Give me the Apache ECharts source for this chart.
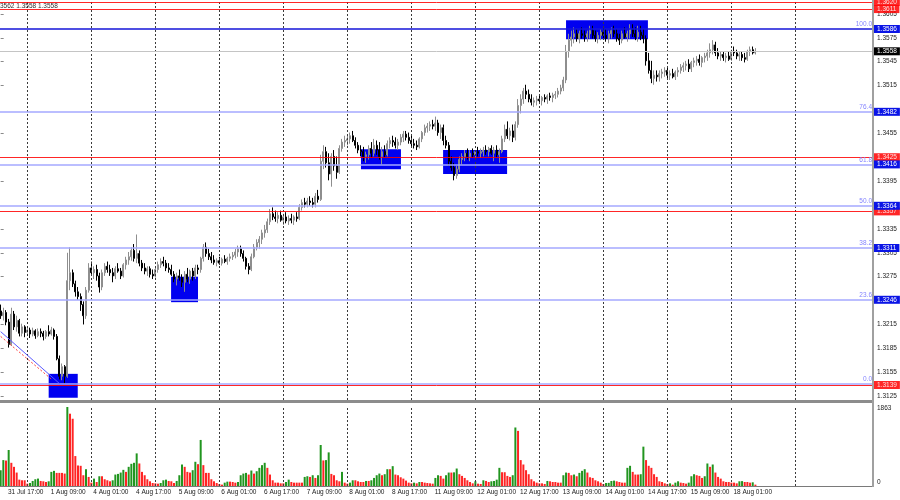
<!DOCTYPE html>
<html><head><meta charset="utf-8">
<script src="https://cdn.jsdelivr.net/npm/echarts@6/dist/echarts.min.js"></script>
<style>html,body{margin:0;padding:0;background:#fff}#c{width:900px;height:500px}</style>
</head><body><div id="c"></div><script>
const FONT = "'Liberation Sans',Arial,sans-serif";
const FS = 6.5;

const opens = [1.3232,1.3226,1.3230,1.3218,1.3190,1.3228,1.3212,1.3220,1.3204,1.3212,
1.3205,1.3208,1.3203,1.3207,1.3201,1.3206,1.3204,1.3200,1.3206,1.3203,
1.3208,1.3200,1.3172,1.3150,1.3162,1.3150,1.3270,1.3280,1.3266,1.3256,
1.3250,1.3240,1.3226,1.3258,1.3286,1.3280,1.3284,1.3276,1.3262,1.3280,
1.3288,1.3284,1.3280,1.3276,1.3285,1.3282,1.3276,1.3290,1.3296,1.3300,
1.3308,1.3298,1.3304,1.3292,1.3286,1.3282,1.3285,1.3278,1.3276,1.3284,
1.3290,1.3294,1.3292,1.3286,1.3284,1.3278,1.3272,1.3276,1.3274,1.3268,
1.3278,1.3272,1.3282,1.3276,1.3286,1.3284,1.3298,1.3312,1.3304,1.3300,
1.3296,1.3293,1.3295,1.3292,1.3297,1.3294,1.3298,1.3300,1.3302,1.3306,
1.3310,1.3304,1.3298,1.3288,1.3284,1.3300,1.3312,1.3318,1.3322,1.3330,
1.3334,1.3344,1.3354,1.3350,1.3348,1.3352,1.3346,1.3350,1.3345,1.3348,
1.3346,1.3350,1.3348,1.3362,1.3368,1.3366,1.3370,1.3368,1.3366,1.3376,
1.3372,1.3420,1.3432,1.3418,1.3404,1.3426,1.3414,1.3406,1.3436,1.3444,
1.3446,1.3448,1.3452,1.3446,1.3440,1.3434,1.3432,1.3426,1.3428,1.3436,
1.3430,1.3440,1.3434,1.3426,1.3432,1.3428,1.3442,1.3446,1.3444,1.3440,
1.3444,1.3450,1.3454,1.3450,1.3446,1.3442,1.3440,1.3438,1.3448,1.3456,
1.3462,1.3464,1.3466,1.3464,1.3468,1.3456,1.3462,1.3446,1.3440,1.3420,
1.3412,1.3402,1.3410,1.3422,1.3426,1.3430,1.3426,1.3430,1.3428,1.3432,
1.3430,1.3432,1.3434,1.3432,1.3436,1.3430,1.3434,1.3428,1.3432,1.3448,
1.3460,1.3452,1.3458,1.3450,1.3466,1.3490,1.3498,1.3508,1.3504,1.3498,
1.3494,1.3496,1.3498,1.3496,1.3500,1.3498,1.3502,1.3500,1.3503,1.3504,
1.3508,1.3512,1.3522,1.3558,1.3572,1.3576,1.3580,1.3574,1.3580,1.3578,
1.3576,1.3580,1.3584,1.3578,1.3574,1.3578,1.3582,1.3578,1.3574,1.3580,
1.3584,1.3580,1.3574,1.3572,1.3580,1.3576,1.3580,1.3586,1.3580,1.3576,
1.3582,1.3578,1.3574,1.3546,1.3534,1.3524,1.3528,1.3526,1.3530,1.3532,
1.3534,1.3528,1.3530,1.3526,1.3532,1.3534,1.3538,1.3540,1.3542,1.3536,
1.3544,1.3546,1.3548,1.3544,1.3550,1.3552,1.3556,1.3560,1.3566,1.3556,
1.3552,1.3554,1.3550,1.3552,1.3548,1.3558,1.3556,1.3552,1.3554,1.3550,
1.3548,1.3558,1.3560,1.3556];

const highs = [1.3240,1.3236,1.3233,1.3222,1.3236,1.3232,1.3226,1.3222,1.3216,1.3214,
1.3212,1.3211,1.3211,1.3209,1.3210,1.3210,1.3207,1.3208,1.3214,1.3212,
1.3210,1.3203,1.3176,1.3166,1.3164,1.3305,1.3312,1.3284,1.3270,1.3262,
1.3254,1.3244,1.3262,1.3292,1.3294,1.3288,1.3290,1.3280,1.3284,1.3292,
1.3294,1.3290,1.3286,1.3288,1.3292,1.3286,1.3292,1.3300,1.3306,1.3312,
1.3316,1.3328,1.3308,1.3296,1.3292,1.3288,1.3288,1.3284,1.3286,1.3294,
1.3298,1.3300,1.3296,1.3292,1.3290,1.3282,1.3280,1.3284,1.3278,1.3282,
1.3286,1.3284,1.3286,1.3290,1.3290,1.3300,1.3316,1.3318,1.3310,1.3306,
1.3302,1.3298,1.3300,1.3299,1.3302,1.3300,1.3304,1.3306,1.3310,1.3314,
1.3314,1.3308,1.3300,1.3292,1.3304,1.3316,1.3322,1.3326,1.3334,1.3340,
1.3348,1.3360,1.3362,1.3358,1.3356,1.3358,1.3354,1.3356,1.3352,1.3354,
1.3352,1.3356,1.3366,1.3372,1.3374,1.3374,1.3376,1.3374,1.3380,1.3384,
1.3428,1.3440,1.3438,1.3430,1.3430,1.3434,1.3426,1.3440,1.3448,1.3452,
1.3454,1.3456,1.3458,1.3450,1.3444,1.3440,1.3438,1.3432,1.3440,1.3444,
1.3448,1.3446,1.3444,1.3438,1.3440,1.3446,1.3450,1.3452,1.3450,1.3448,
1.3454,1.3458,1.3458,1.3456,1.3452,1.3448,1.3446,1.3450,1.3458,1.3466,
1.3468,1.3470,1.3472,1.3476,1.3472,1.3466,1.3466,1.3452,1.3444,1.3426,
1.3418,1.3414,1.3426,1.3430,1.3434,1.3436,1.3434,1.3436,1.3434,1.3438,
1.3436,1.3438,1.3440,1.3438,1.3440,1.3438,1.3440,1.3436,1.3452,1.3466,
1.3470,1.3462,1.3466,1.3470,1.3498,1.3504,1.3512,1.3516,1.3510,1.3504,
1.3500,1.3502,1.3504,1.3502,1.3504,1.3504,1.3506,1.3506,1.3508,1.3512,
1.3516,1.3526,1.3566,1.3580,1.3584,1.3588,1.3586,1.3584,1.3588,1.3584,
1.3584,1.3590,1.3590,1.3584,1.3582,1.3586,1.3588,1.3586,1.3584,1.3588,
1.3590,1.3586,1.3580,1.3584,1.3588,1.3584,1.3592,1.3592,1.3588,1.3590,
1.3590,1.3586,1.3578,1.3556,1.3546,1.3534,1.3534,1.3534,1.3536,1.3538,
1.3538,1.3534,1.3536,1.3534,1.3538,1.3542,1.3544,1.3546,1.3548,1.3546,
1.3550,1.3552,1.3554,1.3552,1.3556,1.3560,1.3568,1.3572,1.3570,1.3562,
1.3558,1.3558,1.3556,1.3558,1.3560,1.3564,1.3560,1.3558,1.3558,1.3556,
1.3560,1.3564,1.3564,1.3562];

const lows = [1.3222,1.3220,1.3214,1.3186,1.3188,1.3208,1.3206,1.3200,1.3200,1.3199,
1.3201,1.3198,1.3200,1.3197,1.3199,1.3199,1.3195,1.3197,1.3200,1.3201,
1.3196,1.3170,1.3146,1.3145,1.3141,1.3148,1.3258,1.3262,1.3250,1.3246,
1.3232,1.3215,1.3222,1.3255,1.3276,1.3272,1.3270,1.3255,1.3258,1.3276,
1.3280,1.3276,1.3268,1.3272,1.3280,1.3272,1.3274,1.3284,1.3290,1.3295,
1.3294,1.3292,1.3288,1.3282,1.3278,1.3276,1.3274,1.3272,1.3274,1.3280,
1.3286,1.3288,1.3282,1.3280,1.3276,1.3268,1.3264,1.3270,1.3262,1.3256,
1.3268,1.3266,1.3270,1.3272,1.3278,1.3280,1.3294,1.3300,1.3296,1.3292,
1.3290,1.3288,1.3290,1.3289,1.3292,1.3290,1.3294,1.3296,1.3298,1.3300,
1.3300,1.3294,1.3284,1.3278,1.3282,1.3298,1.3308,1.3310,1.3316,1.3324,
1.3330,1.3340,1.3346,1.3344,1.3342,1.3344,1.3340,1.3342,1.3340,1.3342,
1.3340,1.3344,1.3346,1.3358,1.3362,1.3362,1.3364,1.3362,1.3362,1.3368,
1.3370,1.3410,1.3412,1.3396,1.3388,1.3408,1.3398,1.3404,1.3432,1.3438,
1.3440,1.3442,1.3444,1.3436,1.3430,1.3426,1.3420,1.3418,1.3422,1.3424,
1.3426,1.3428,1.3422,1.3416,1.3424,1.3426,1.3436,1.3438,1.3436,1.3434,
1.3440,1.3444,1.3446,1.3442,1.3438,1.3436,1.3434,1.3436,1.3444,1.3452,
1.3456,1.3458,1.3460,1.3458,1.3452,1.3448,1.3440,1.3436,1.3414,1.3408,
1.3396,1.3398,1.3406,1.3416,1.3420,1.3422,1.3420,1.3424,1.3422,1.3426,
1.3424,1.3426,1.3428,1.3426,1.3428,1.3420,1.3424,1.3418,1.3430,1.3444,
1.3448,1.3446,1.3444,1.3446,1.3462,1.3480,1.3492,1.3498,1.3494,1.3490,
1.3488,1.3490,1.3492,1.3490,1.3494,1.3492,1.3496,1.3494,1.3498,1.3500,
1.3504,1.3508,1.3518,1.3550,1.3564,1.3568,1.3570,1.3568,1.3574,1.3570,
1.3570,1.3574,1.3574,1.3570,1.3568,1.3572,1.3574,1.3570,1.3568,1.3574,
1.3576,1.3570,1.3566,1.3568,1.3574,1.3570,1.3574,1.3576,1.3572,1.3570,
1.3572,1.3568,1.3540,1.3530,1.3518,1.3516,1.3520,1.3520,1.3524,1.3526,
1.3524,1.3522,1.3524,1.3522,1.3526,1.3530,1.3532,1.3534,1.3532,1.3532,
1.3538,1.3540,1.3540,1.3538,1.3544,1.3546,1.3550,1.3554,1.3552,1.3548,
1.3546,1.3546,1.3544,1.3546,1.3546,1.3552,1.3548,1.3546,1.3546,1.3544,
1.3546,1.3552,1.3554,1.3554];

const closes = [1.3226,1.3230,1.3218,1.3190,1.3228,1.3212,1.3220,1.3204,1.3212,1.3205,
1.3208,1.3203,1.3207,1.3201,1.3206,1.3204,1.3200,1.3206,1.3203,1.3208,
1.3200,1.3172,1.3150,1.3162,1.3150,1.3270,1.3280,1.3266,1.3256,1.3250,
1.3240,1.3226,1.3258,1.3286,1.3280,1.3284,1.3276,1.3262,1.3280,1.3288,
1.3284,1.3280,1.3276,1.3285,1.3282,1.3276,1.3290,1.3296,1.3300,1.3308,
1.3298,1.3304,1.3292,1.3286,1.3282,1.3285,1.3278,1.3276,1.3284,1.3290,
1.3294,1.3292,1.3286,1.3284,1.3278,1.3272,1.3276,1.3274,1.3268,1.3278,
1.3272,1.3282,1.3276,1.3286,1.3284,1.3298,1.3312,1.3304,1.3300,1.3296,
1.3293,1.3295,1.3292,1.3297,1.3294,1.3298,1.3300,1.3302,1.3306,1.3310,
1.3304,1.3298,1.3288,1.3284,1.3300,1.3312,1.3318,1.3322,1.3330,1.3334,
1.3344,1.3354,1.3350,1.3348,1.3352,1.3346,1.3350,1.3345,1.3348,1.3346,
1.3350,1.3348,1.3362,1.3368,1.3366,1.3370,1.3368,1.3366,1.3376,1.3372,
1.3420,1.3432,1.3418,1.3404,1.3426,1.3414,1.3406,1.3436,1.3444,1.3446,
1.3448,1.3452,1.3446,1.3440,1.3434,1.3432,1.3426,1.3428,1.3436,1.3430,
1.3440,1.3434,1.3426,1.3432,1.3428,1.3442,1.3446,1.3444,1.3440,1.3444,
1.3450,1.3454,1.3450,1.3446,1.3442,1.3440,1.3438,1.3448,1.3456,1.3462,
1.3464,1.3466,1.3464,1.3468,1.3456,1.3462,1.3446,1.3440,1.3420,1.3412,
1.3402,1.3410,1.3422,1.3426,1.3430,1.3426,1.3430,1.3428,1.3432,1.3430,
1.3432,1.3434,1.3432,1.3436,1.3430,1.3434,1.3428,1.3432,1.3448,1.3460,
1.3452,1.3458,1.3450,1.3466,1.3490,1.3498,1.3508,1.3504,1.3498,1.3494,
1.3496,1.3498,1.3496,1.3500,1.3498,1.3502,1.3500,1.3503,1.3504,1.3508,
1.3512,1.3522,1.3558,1.3572,1.3576,1.3580,1.3574,1.3580,1.3578,1.3576,
1.3580,1.3584,1.3578,1.3574,1.3578,1.3582,1.3578,1.3574,1.3580,1.3584,
1.3580,1.3574,1.3572,1.3580,1.3576,1.3580,1.3586,1.3580,1.3576,1.3582,
1.3578,1.3574,1.3546,1.3534,1.3524,1.3528,1.3526,1.3530,1.3532,1.3534,
1.3528,1.3530,1.3526,1.3532,1.3534,1.3538,1.3540,1.3542,1.3536,1.3544,
1.3546,1.3548,1.3544,1.3550,1.3552,1.3556,1.3560,1.3566,1.3556,1.3552,
1.3554,1.3550,1.3552,1.3548,1.3558,1.3556,1.3552,1.3554,1.3550,1.3548,
1.3558,1.3560,1.3556,1.3558];

const volumes = [373,611,600,849,547,452,317,150,135,135,
55,71,119,159,175,119,111,95,111,333,
357,309,309,309,293,1863,1705,1586,706,484,
476,254,396,214,79,174,95,230,230,159,
135,111,135,270,285,317,381,333,452,523,
547,769,531,333,254,159,111,71,63,55,
71,135,150,119,111,71,119,254,507,452,
333,317,373,571,515,1086,492,309,309,159,
111,71,48,32,79,103,103,95,79,95,
254,293,309,270,365,293,349,428,492,547,
428,270,135,79,79,63,63,95,150,95,
79,79,79,79,214,230,214,254,190,254,
967,603,611,793,285,254,135,111,333,79,
55,79,135,135,111,95,95,119,119,135,
190,254,293,254,278,396,396,468,270,254,
206,174,127,79,63,79,63,95,95,79,
71,63,55,190,254,238,174,254,317,
317,322,412,278,238,190,135,95,63,111,
55,48,135,119,95,111,118,150,428,325,
325,238,214,254,1380,1300,611,507,373,278,
159,111,79,63,63,48,119,111,95,95,
79,79,254,317,309,254,270,230,309,357,
396,317,206,190,135,111,79,48,71,74,
119,127,111,95,79,79,428,476,333,270,
270,278,928,611,476,428,278,214,111,95,
63,48,63,32,79,111,79,71,55,79,
230,278,254,238,190,230,531,452,507,317,
214,174,111,95,95,79,79,63,111,115,
95,95,79,87,32];

const xLabelBars = [2,18,34,50,66,82,98,114,130,146,162,178,194,210,226,242,258,274];
const xLabelTexts = ['31 Jul 17:00','1 Aug 09:00','4 Aug 01:00','4 Aug 17:00','5 Aug 09:00','6 Aug 01:00','6 Aug 17:00','7 Aug 09:00','8 Aug 01:00','8 Aug 17:00','11 Aug 09:00','12 Aug 01:00','12 Aug 17:00','13 Aug 09:00','14 Aug 01:00','14 Aug 17:00','15 Aug 09:00','18 Aug 01:00'];
const gridBars = [10,34,58,82,106,130,154,178,202,226,250,274,298];
const priceTicks = [1.3125,1.3155,1.3185,1.3215,1.3275,1.3305,1.3335,1.3395,1.3455,1.3515,1.3545,1.3575,1.3605];

const redLevels = [1.3620,1.3611,1.3425,1.3357,1.3139];
const fibLevels = [1.3586,1.3482,1.3416,1.3364,1.3311,1.3246,1.3141];
const fibRatios = ['100.0','76.4','61.8','50.0','38.2','23.6','0.0'];
const bidPrice = 1.3558;
const volumeMax = 1863;

const boxStart = [18.0,63.9,135.1,165.9,212.0];
const boxEnd = [28.9,74.0,150.1,189.9,242.7];
const boxTop = [1.3153,1.3275,1.3435,1.3434,1.3597];
const boxBottom = [1.3123,1.3243,1.3410,1.3404,1.3573];

const blueTrend = [[0,1.3206],[22,1.3141]];
const redTrend = [[0,1.3200],[19.5,1.3145]];

const candleData = opens.map((o,i)=>[i,o,closes[i],lows[i],highs[i]]);
const volData = volumes.map((v,i)=>({value:[i,v],itemStyle:{color:(i===0||v>volumes[i-1])?'#21951f':'#ff2424'}}));

const priceLabel = (txt,bg)=>({show:true,position:'end',distance:1,formatter:txt,color:'#fff',backgroundColor:bg,
  padding:[1,3,0,3],fontSize:FS,lineHeight:7,fontFamily:FONT});

const levelLines = [];
redLevels.forEach(v=>levelLines.push({yAxis:v,lineStyle:{color:'#ff0000',width:1,type:'solid',opacity:0.85},label:priceLabel(v.toFixed(4),'#ff0000')}));
fibLevels.forEach((v,k)=>{
  const main = k===0;
  levelLines.push({yAxis:v,lineStyle:{color:main?'#1414d8':'#a4a8ff',width:1.6,type:'solid'},
    label: k===fibLevels.length-1 ? {show:false} : priceLabel(v.toFixed(4),'#0a14e6')});
  levelLines.push({yAxis:v,lineStyle:{color:'rgba(0,0,0,0)',width:0},label:{show:true,position:'insideEndTop',distance:1,formatter:fibRatios[k],
    color:'#8484ff',fontSize:FS,fontFamily:FONT}});
});
levelLines.push({yAxis:bidPrice,lineStyle:{color:'#c4c4c4',width:1,type:'solid'},label:priceLabel(bidPrice.toFixed(4),'#000')});

const X_MIN=-0.25, X_MAX=327.1;
const Y_MIN=1.312017, Y_MAX=1.362241;

const chart = echarts.init(document.getElementById('c'),null,{renderer:'canvas'});
chart.setOption({
  animation:false,
  backgroundColor:'#ffffff',
  textStyle:{fontFamily:FONT},
  grid:[
    {left:0,top:0,width:873,height:400},
    {left:0,top:407,width:873,height:79}
  ],
  xAxis:[
    {type:'value',gridIndex:0,min:X_MIN,max:X_MAX,show:false},
    {type:'value',gridIndex:1,min:X_MIN,max:X_MAX,
      axisLine:{show:true,lineStyle:{color:'#7a7a7a',width:1}},
      axisTick:{show:false},splitLine:{show:false},
      axisLabel:{customValues:xLabelBars,formatter:v=>xLabelTexts[xLabelBars.indexOf(v)]||'',
        align:'left',padding:[0,0,0,2],margin:3,fontSize:FS,color:'#222',fontFamily:FONT}}
  ],
  yAxis:[
    {type:'value',gridIndex:0,position:'right',min:Y_MIN,max:Y_MAX,
      axisLine:{show:false},splitLine:{show:false},
      axisTick:{show:true,customValues:priceTicks,length:3,lineStyle:{color:'#8a8a8a'}},
      axisLabel:{customValues:priceTicks,formatter:v=>v.toFixed(4),margin:4,fontSize:FS,color:'#222',fontFamily:FONT}},
    {type:'value',gridIndex:1,position:'right',min:0,max:volumeMax,
      axisLine:{show:false},splitLine:{show:false},axisTick:{show:false},axisLabel:{show:false}}
  ],
  series:[
    {type:'line',xAxisIndex:0,yAxisIndex:0,data:[],z:1,silent:true,
      markLine:{silent:true,symbol:['none','none'],animation:false,label:{show:false},
        lineStyle:{color:'#3a3a3a',type:[2,2],width:1},data:gridBars.map(b=>({xAxis:b}))}},
    {type:'line',xAxisIndex:1,yAxisIndex:1,data:[],z:1,silent:true,
      markLine:{silent:true,symbol:['none','none'],animation:false,label:{show:false},
        lineStyle:{color:'#3a3a3a',type:[2,2],width:1},data:gridBars.map(b=>({xAxis:b}))}},
    {type:'line',xAxisIndex:0,yAxisIndex:0,data:[],z:2,silent:true,
      markArea:{silent:true,itemStyle:{color:'#0000f0'},
        data:boxStart.map((s,k)=>[{xAxis:s,yAxis:boxTop[k]},{xAxis:boxEnd[k],yAxis:boxBottom[k]}])}},
    {type:'line',xAxisIndex:0,yAxisIndex:0,data:[],z:3,silent:true,
      markLine:{silent:true,symbol:['none','none'],animation:false,precision:4,data:levelLines}},
    {type:'candlestick',xAxisIndex:0,yAxisIndex:0,z:4,
      dimensions:['idx','open','close','lowest','highest'],
      encode:{x:0,y:[1,2,3,4]},
      barWidth:1.6,
      itemStyle:{color:'#a8a8a8',color0:'#000000',borderColor:'#8e8e8e',borderColor0:'#000000',borderWidth:1},
      data:candleData},
    {type:'line',xAxisIndex:0,yAxisIndex:0,z:5,symbol:'none',data:blueTrend,
      lineStyle:{color:'#5a5aff',width:1}},
    {type:'line',xAxisIndex:0,yAxisIndex:0,z:5,symbol:'none',data:redTrend,
      lineStyle:{color:'#ff4040',width:1,type:[2,2]}},
    {type:'bar',xAxisIndex:1,yAxisIndex:1,z:4,barWidth:2,data:volData}
  ],
  graphic:[
    {type:'rect',shape:{x:0,y:400,width:873,height:3},style:{fill:'#8c8c8c'},z:10},
    {type:'rect',shape:{x:872,y:0,width:2,height:487},style:{fill:'#a0a0a0'},z:10},
    {type:'text',x:0,y:6,style:{text:'3562 1.3558 1.3558',fontSize:FS,fill:'#303030',fontFamily:FONT,textVerticalAlign:'middle'},z:10},
    {type:'text',x:877,y:408,style:{text:String(volumeMax),fontSize:FS,fill:'#222',fontFamily:FONT,textVerticalAlign:'middle'},z:10},
    {type:'text',x:877,y:482,style:{text:'0',fontSize:FS,fill:'#222',fontFamily:FONT,textVerticalAlign:'middle'},z:10}
  ]
});
</script></body></html>
